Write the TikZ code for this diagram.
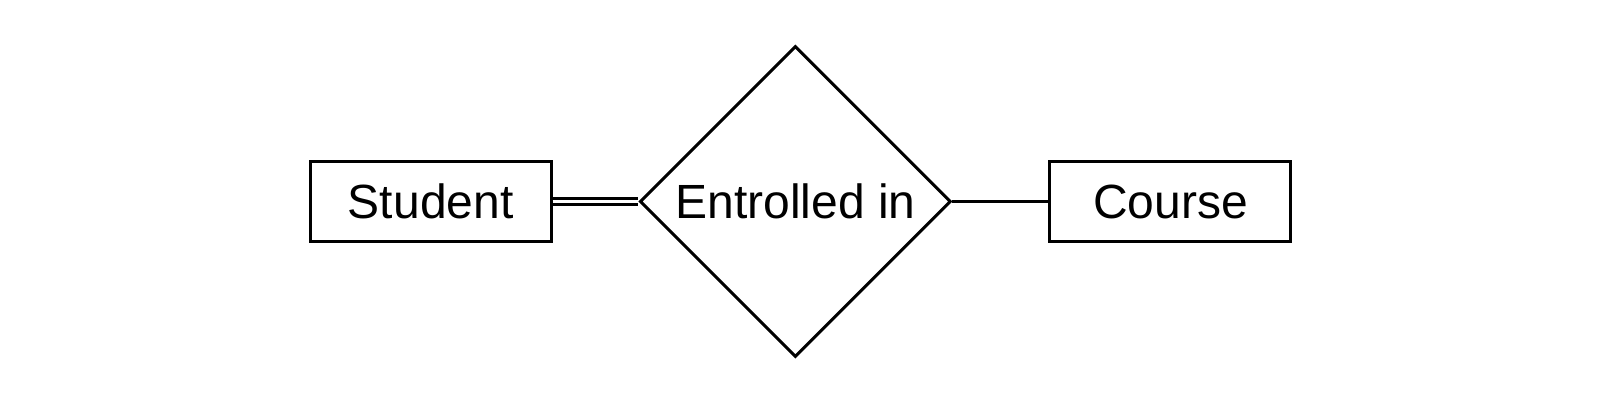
\documentclass[tikz,border=0pt]{standalone}
\usepackage{fontspec}
\setmainfont{Liberation Sans}
\usetikzlibrary{shapes.geometric}
\begin{document}
\begin{tikzpicture}[x=1pt,y=-1pt,
  ent/.style={draw,line width=3pt,minimum width=241pt,minimum height=80pt,inner sep=0pt,font=\fontsize{48}{52}\selectfont},
  rel/.style={draw,diamond,line width=3pt,minimum width=311pt,minimum height=311pt,inner sep=0pt,font=\fontsize{48}{52}\selectfont,aspect=1},
  conn/.style={line width=3pt},
  dconn/.style={line width=3pt,double,double distance=3pt}]
\useasboundingbox (0,0) rectangle (1600,405);
\node[ent] (student) at (430.7,201.5) {Student};
\node[rel] (rel) at (795.4,201.5) {Entrolled in};
\node[ent] (course) at (1170.4,201.5) {Course};
\draw[dconn] (student.east) -- (rel.west);
\draw[conn] (rel.east) -- (course.west);
\end{tikzpicture}
\end{document}
